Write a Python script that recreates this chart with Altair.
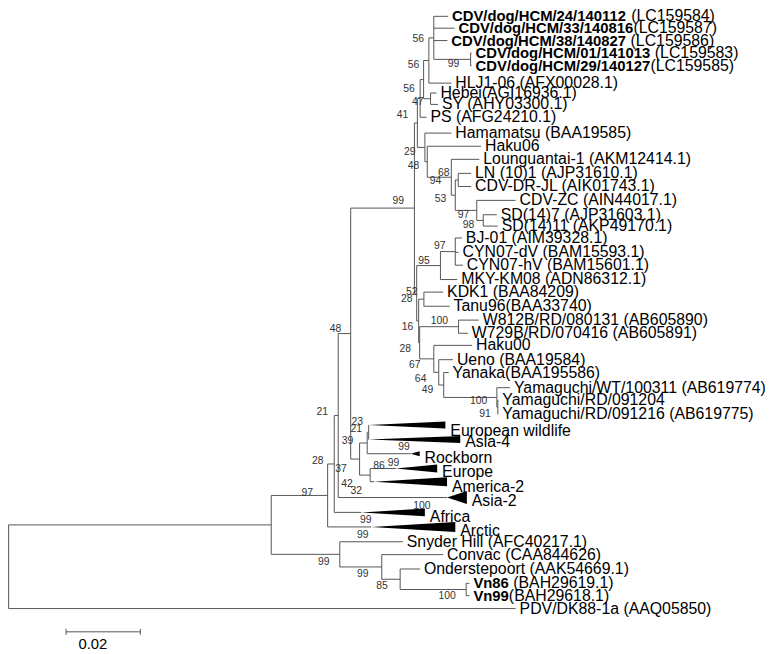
import altair as alt
import pandas as pd

# ---------------- internal nodes (distance from root, substitutions/site)
node_name = ["root", "N274", "A", "B", "C", "D", "E", "F2", "F1", "G", "S", "T", "U", "V",
             "H", "Hu", "X4", "X3", "X2", "X1", "K", "Y", "W", "G2", "L", "L2", "N", "O1", "P",
             "Hl", "R", "Q", "Z", "KT", "J2", "Wn", "HK", "UY", "YY", "Yam1", "Yam2"]
node_parent = [None, "root", "N274", "A", "B", "C", "D", "E", "F2", "E", "N274", "S", "T", "U",
               "D", "H", "Hu", "X4", "X3", "X2", "X1", "X3", "Hu", "W", "G2", "L", "L2", "L2", "O1",
               "H", "Hl", "R", "Hl", "Z", "Z", "J2", "J2", "HK", "UY", "YY", "Yam1"]
node_dist = [0.0015, 0.07227, 0.08747, 0.08925, 0.09032, 0.09368, 0.09608, 0.09813, 0.09853, 0.09893,
             0.09075, 0.10205, 0.10701, 0.12480,
             0.11085, 0.11165, 0.11240, 0.11333, 0.11475, 0.11608, 0.12600, 0.11520, 0.11368, 0.11432,
             0.12080, 0.12187, 0.12267, 0.12765, 0.12941,
             0.11147, 0.11787, 0.12187, 0.11200, 0.11341, 0.11227, 0.12275, 0.11608, 0.11741, 0.11875,
             0.13307, 0.13333]

# ---------------- leaves
leaf_bold = ["CDV/dog/HCM/24/140112", "CDV/dog/HCM/33/140816", "CDV/dog/HCM/38/140827",
             "CDV/dog/HCM/01/141013", "CDV/dog/HCM/29/140127"] + [""] * 29 + ["Vn86", "Vn99", ""]
leaf_text = ["(LC159584)", "(LC159587)", "(LC159586)", "(LC159583)", "(LC159585)",
             "HLJ1-06 (AFX00028.1)", "Hebei(AGI16936.1)", "SY (AHY03300.1)", "PS (AFG24210.1)",
             "Hamamatsu (BAA19585)", "Haku06", "Lounguantai-1 (AKM12414.1)", "LN (10)1 (AJP31610.1)",
             "CDV-DR-JL (AIK01743.1)", "CDV-ZC (AIN44017.1)", "SD(14)7 (AJP31603.1)",
             "SD(14)11 (AKP49170.1)", "BJ-01 (AIM39328.1)", "CYN07-dV (BAM15593.1)",
             "CYN07-hV (BAM15601.1)", "MKY-KM08 (ADN86312.1)", "KDK1 (BAA84209)", "Tanu96(BAA33740)",
             "W812B/RD/080131 (AB605890)", "W729B/RD/070416 (AB605891)", "Haku00", "Ueno (BAA19584)",
             "Yanaka(BAA195586)", "Yamaguchi/WT/100311 (AB619774)", "Yamaguchi/RD/091204",
             "Yamaguchi/RD/091216 (AB619775)", "Snyder Hill (AFC40217.1)", "Convac (CAA844626)",
             "Onderstepoort (AAK54669.1)", "(BAH29619.1)", "(BAH29618.1)", "PDV/DK88-1a (AAQ05850)"]
leaf_space = [True, False, True, True, False] + [False] * 29 + [True, False, False]
leaf_parent = ["X1", "X1", "X1", "K", "K", "X2", "Y", "Y", "X4", "W", "G2", "L", "N", "N", "O1", "P", "P",
               "Q", "Q", "Q", "R", "KT", "KT", "Wn", "Wn", "HK", "UY", "YY", "Yam1", "Yam2", "Yam2",
               "S", "T", "U", "V", "V", "root"]
leaf_tip = [0.11992, 0.12168, 0.11973, 0.12627, 0.12627, 0.12080, 0.11680, 0.11725, 0.11413, 0.12080,
            0.12880, 0.12835, 0.12613, 0.12613, 0.13813, 0.13307, 0.13333, 0.12365, 0.12275, 0.12392,
            0.12240, 0.11859, 0.12035, 0.12819, 0.12525, 0.12640, 0.12125, 0.12008, 0.13661, 0.13347,
            0.13347, 0.10773, 0.11859, 0.11235, 0.12568, 0.12568, 0.13813]
leaf_pos = [13, 25, 37.5, 50, 63, 80.5, 90.5, 102, 115, 131, 144.3, 157.5, 171.7, 185, 199, 213.5, 225,
            237, 251.5, 264.5, 279, 291.7, 306, 320, 333.3, 345.5, 360, 373, 388.3, 401, 415,
            544, 557, 571.5, 586, 598.5, 611.5]

# ---------------- collapsed clades
clade_label = ["European wildlife", "Asia-4", "Rockborn", "Europe", "America-2", "Asia-2", "Africa", "Arctic"]
clade_parent = ["F1", "F1", "F2", "G", "G", "C", "B", "A"]
clade_base = [0.09853, 0.09853, 0.10987, 0.10587, 0.10000, 0.11965, 0.09653, 0.09920]
clade_tip = [0.11920, 0.12320, 0.11227, 0.11699, 0.11965, 0.12499, 0.11368, 0.12187]
clade_pos = [426, 440.7, 455, 470, 483.3, 499.3, 514.3, 529]
clade_spread = [3.5, 3.5, 2.5, 4, 4.5, 6.5, 4, 5]
clade_label_pos = [431.7, 443.3, 459.3, 474, 488.3, 503.3, 519, 533.3]

# ---------------- bootstrap values
boot_value = ["56", "99", "56", "56", "47", "41", "29", "48", "68", "94", "53", "99", "97", "98", "97", "95",
              "52", "28", "100", "16", "48", "28", "67", "64", "49", "100", "91", "21", "23", "21", "39", "99",
              "28", "99", "86", "37", "42", "32", "97", "100", "99", "99", "99", "99", "85", "100"]
boot_x = [0.11192, 0.12141, 0.11059, 0.10941, 0.11173, 0.10765, 0.10960, 0.11059, 0.11875, 0.11653,
          0.11787, 0.10648, 0.12408, 0.12541, 0.11768, 0.11341, 0.11013, 0.10880, 0.11760, 0.10899,
          0.08960, 0.10840, 0.11093, 0.11253, 0.11440, 0.12819, 0.12987, 0.08600, 0.09547, 0.09520,
          0.09280, 0.10808, 0.08480, 0.10525, 0.10133, 0.09107, 0.09267, 0.09520, 0.08200, 0.11288,
          0.09773, 0.09693, 0.08640, 0.09693, 0.10213, 0.11965]
boot_y = [35.7, 61.7, 62.7, 86.7, 100, 112.3, 150, 164, 171, 179.3, 197.7, 200, 214.3, 224, 245, 260,
          292, 299, 320.7, 326.7, 329, 349, 365.7, 379.3, 391, 401.7, 415, 413, 423, 430, 441.7, 448.3,
          462, 464.3, 467.3, 470, 485.5, 492.5, 495, 508.3, 522.2, 537, 564.2, 576.7, 589, 599.3]

# ---------------- scale bar
scale_value = 0.02
scale_start = 0.01699
scale_pos = 635
scale_label_x = 0.0242
scale_label_pos = 647

# ================= geometry from the tree
X_DOMAIN = [0.0013333, 0.2053333]
Y_DOMAIN = [8, 654]
W, H = 765, 646
px_per_unit = W / (X_DOMAIN[1] - X_DOMAIN[0])

dist = dict(zip(node_name, node_dist))
children = {n: [] for n in node_name}
for n, p in zip(node_name, node_parent):
    if p is not None:
        children[p].append(("node", n))
for i, p in enumerate(leaf_parent):
    children[p].append(("leaf", i))
for i, p in enumerate(clade_parent):
    children[p].append(("clade", i))

ypos = {}


def node_y(n):
    ys = []
    for kind, k in children[n]:
        if kind == "node":
            ys.append(node_y(k))
        elif kind == "leaf":
            ys.append(leaf_pos[k])
        else:
            ys.append(clade_pos[k])
    ypos[n] = (min(ys), max(ys))
    return (min(ys) + max(ys)) / 2


node_y("root")

segs = []
for n in node_name:
    lo, hi = ypos[n]
    segs.append(dict(x=dist[n], x2=dist[n], y=lo, y2=hi))
    for kind, k in children[n]:
        if kind == "node":
            cy = sum(ypos[k]) / 2
            segs.append(dict(x=dist[n], x2=dist[k], y=cy, y2=cy))
        elif kind == "leaf":
            segs.append(dict(x=dist[n], x2=leaf_tip[k], y=leaf_pos[k], y2=leaf_pos[k]))
        else:
            if clade_base[k] > dist[n]:
                segs.append(dict(x=dist[n], x2=clade_base[k], y=clade_pos[k], y2=clade_pos[k]))
# scale bar
segs.append(dict(x=scale_start, x2=scale_start + scale_value, y=scale_pos, y2=scale_pos))
segs.append(dict(x=scale_start, x2=scale_start, y=scale_pos - 3, y2=scale_pos + 3))
segs.append(dict(x=scale_start + scale_value, x2=scale_start + scale_value, y=scale_pos - 3, y2=scale_pos + 3))
seg_df = pd.DataFrame(segs)

tri = []
for i, lab in enumerate(clade_label):
    tri.append(dict(clade=lab, x=clade_base[i], y=clade_pos[i], y2=clade_pos[i]))
    tri.append(dict(clade=lab, x=clade_tip[i], y=clade_pos[i] - clade_spread[i],
                    y2=clade_pos[i] + clade_spread[i]))
tri_df = pd.DataFrame(tri)

BOLD_W = {"C": .722, "D": .722, "V": .667, "/": .278, "d": .611, "o": .611, "g": .611,
          "H": .722, "M": .833, "n": .611}
BOLD_SIZE, REG_SIZE = 15, 16


def bold_width(s):
    return sum(BOLD_W.get(c, .556) for c in s) * BOLD_SIZE


leaf_rows, bold_rows = [], []
for i, t in enumerate(leaf_text):
    x = leaf_tip[i]
    if leaf_bold[i]:
        bold_rows.append(dict(x=x, y=leaf_pos[i], t=leaf_bold[i]))
        off = bold_width(leaf_bold[i]) + (0.278 * REG_SIZE if leaf_space[i] else 0)
        x = x + off / px_per_unit
    leaf_rows.append(dict(x=x, y=leaf_pos[i], t=t))
leaf_df = pd.DataFrame(leaf_rows)
bold_df = pd.DataFrame(bold_rows)
clade_df = pd.DataFrame(dict(x=clade_tip, y=clade_label_pos, t=clade_label))
boot_df = pd.DataFrame(dict(x=boot_x, y=boot_y, t=boot_value))
scale_df = pd.DataFrame(dict(x=[scale_label_x], y=[scale_label_pos], t=[f"{scale_value:.2f}"]))

xs = alt.Scale(domain=X_DOMAIN, nice=False, zero=False)
ysc = alt.Scale(domain=Y_DOMAIN, nice=False, zero=False, reverse=True)
X = alt.X("x:Q", scale=xs, axis=None)
Y = alt.Y("y:Q", scale=ysc, axis=None)
FONT = "Liberation Sans"

rules = alt.Chart(seg_df).mark_rule(color="#555555", strokeWidth=1).encode(x=X, x2="x2:Q", y=Y, y2="y2:Q")
wedges = alt.Chart(tri_df).mark_area(color="black", orient="vertical", opacity=1).encode(
    x=X, y=Y, y2="y2:Q", detail="clade:N")
txt = dict(align="left", baseline="middle", font=FONT, color="black")
leaves = alt.Chart(leaf_df).mark_text(dx=4, fontSize=REG_SIZE, **txt).encode(x=X, y=Y, text="t:N")
bolds = alt.Chart(bold_df).mark_text(dx=4, fontSize=BOLD_SIZE, fontWeight="bold", **txt).encode(
    x=X, y=Y, text="t:N")
clades = alt.Chart(clade_df).mark_text(dx=5, fontSize=REG_SIZE, **txt).encode(x=X, y=Y, text="t:N")
boots = alt.Chart(boot_df).mark_text(align="center", baseline="middle", font=FONT, fontSize=10.5,
                                     color="#333333").encode(x=X, y=Y, text="t:N")
scale_txt = alt.Chart(scale_df).mark_text(align="center", baseline="middle", font=FONT, fontSize=15,
                                          color="black").encode(x=X, y=Y, text="t:N")

chart = alt.layer(rules, wedges, leaves, bolds, clades, boots, scale_txt).properties(
    width=W, height=H, padding=0, autosize=alt.AutoSizeParams(type="none"),
    background="white").configure_view(stroke=None)

chart.save("out.html", embed_options={"renderer": "svg", "actions": False})
